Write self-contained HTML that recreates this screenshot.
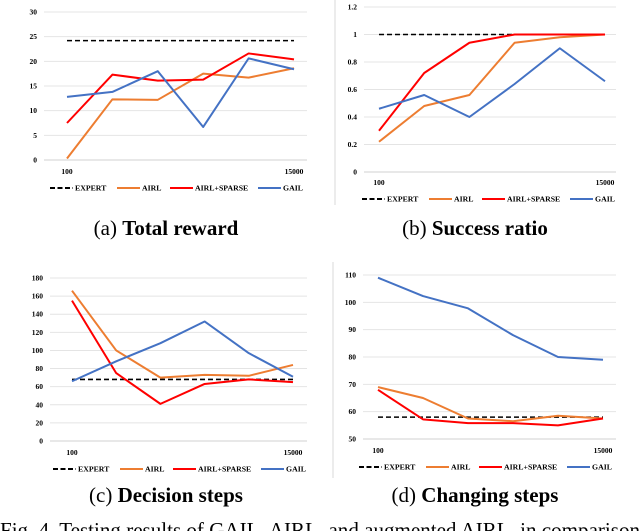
<!DOCTYPE html>
<html><head><meta charset="utf-8">
<style>
html,body{margin:0;padding:0;background:#fff;}
svg{display:block;font-family:"Liberation Serif",serif;}
</style></head>
<body>
<svg id="fig" width="640" height="531" viewBox="0 0 640 531">
  <line x1="335" y1="0" x2="335" y2="205" stroke="#d8d8d8" stroke-width="1"/>
  <line x1="333" y1="262" x2="333" y2="478" stroke="#d8d8d8" stroke-width="1"/>
  <text x="166" y="235" text-anchor="middle" font-size="21">(a) <tspan font-weight="bold">Total reward</tspan></text>
  <text x="475" y="235" text-anchor="middle" font-size="21">(b) <tspan font-weight="bold">Success ratio</tspan></text>
  <text x="166" y="502" text-anchor="middle" font-size="21">(c) <tspan font-weight="bold">Decision steps</tspan></text>
  <text x="475" y="502" text-anchor="middle" font-size="21">(d) <tspan font-weight="bold">Changing steps</tspan></text>
  <text x="0" y="537" font-size="21" textLength="640" lengthAdjust="spacingAndGlyphs">Fig. 4.   Testing results of GAIL, AIRL, and augmented AIRL, in comparison</text>
</svg>
<script>
// Data
const xLabels = ["100", "", "", "", "", "15000"];
const seriesNames = ["EXPERT", "AIRL", "AIRL+SPARSE", "GAIL"];
const aExpert = [24.2, 24.2, 24.2, 24.2, 24.2, 24.2];
const aAirl = [0.3, 12.3, 12.2, 17.5, 16.7, 18.6];
const aSparse = [7.5, 17.3, 16.1, 16.3, 21.6, 20.4];
const aGail = [12.8, 13.8, 18.0, 6.7, 20.6, 18.4];
const aTicks = [0, 5, 10, 15, 20, 25, 30];
const bExpert = [1, 1, 1, 1, 1, 1];
const bAirl = [0.22, 0.48, 0.56, 0.94, 0.98, 1];
const bSparse = [0.3, 0.72, 0.94, 1, 1, 1];
const bGail = [0.46, 0.56, 0.40, 0.64, 0.90, 0.66];
const bTicks = [0, 0.2, 0.4, 0.6, 0.8, 1, 1.2];
const cExpert = [68, 68, 68, 68, 68, 68];
const cAirl = [166, 100, 70, 73, 72, 84];
const cSparse = [155, 75, 41, 63, 68, 65];
const cGail = [66, 88, 108, 132, 97, 71];
const cTicks = [0, 20, 40, 60, 80, 100, 120, 140, 160, 180];
const dExpert = [58, 58, 58, 58, 58, 58];
const dAirl = [69, 65, 57.5, 56.5, 58.5, 57.5];
const dSparse = [68, 57.2, 55.8, 55.8, 55, 57.5];
const dGail = [109, 102.3, 97.8, 88, 80, 79];
const dTicks = [50, 60, 70, 80, 90, 100, 110];

const colors = ["#000000", "#ed7d31", "#ff0000", "#4472c4"];
const NS = "http://www.w3.org/2000/svg";
const svg = document.getElementById("fig");

function mk(tag, attrs, parent) {
  const e = document.createElementNS(NS, tag);
  for (const k in attrs) e.setAttribute(k, attrs[k]);
  parent.appendChild(e);
  return e;
}

function chart(id, cfg, ticks, series) {
  const g = mk("g", {}, svg);
  
  
  const yMin = ticks[0], yMax = ticks[ticks.length - 1];
  const ys = v => cfg.yb - (v - yMin) / (yMax - yMin) * (cfg.yb - cfg.yt);
  const xs = i => cfg.px0 + i * (cfg.px1 - cfg.px0) / (xLabels.length - 1);
  ticks.forEach(t => {
    const l = mk("line", {x1: cfg.gx0, x2: cfg.gx1, y1: ys(t), y2: ys(t), stroke: t === yMin ? "#d0d0d0" : "#e4e4e4", "stroke-width": 1}, g);
    
    
    const tx = mk("text", {x: cfg.gx0 - 7, y: ys(t) + 2.5, "text-anchor": "end", "font-size": 7.5, "font-weight": "bold"}, g);
    tx.textContent = String(t);
    
    
  });
  xLabels.forEach((lab, i) => {
    if (!lab) return;
    const tx = mk("text", {x: xs(i), y: cfg.ly, "text-anchor": "middle", "font-size": 7.5, "font-weight": "bold"}, g);
    tx.textContent = lab;
    
    
  });
  series.forEach((vals, s) => {
    const pts = vals.map((v, i) => xs(i) + "," + ys(v)).join(" ");
    const p = mk("polyline", {points: pts, fill: "none", stroke: colors[s], "stroke-width": s === 0 ? 1.6 : 2, "stroke-dasharray": s === 0 ? "5,3" : "none", "stroke-linejoin": "round"}, g);
    
    
  });
  const lx = cfg.legX;
  seriesNames.forEach((n, s) => {
    const x0 = cfg.ox + lx[s];
    const l = mk("line", {x1: x0, x2: x0 + 23, y1: cfg.legY, y2: cfg.legY, stroke: colors[s], "stroke-width": 2, "stroke-dasharray": s === 0 ? "5,2.5" : "none"}, g);
    
    
    const t = mk("text", {x: x0 + 25, y: cfg.legY + 2.5, "font-size": 7.8, "font-weight": "bold"}, g);
    t.textContent = n;
    
    
  });
}

const legA = [50, 117, 170, 258];
chart("a", {ox: 0, yt: 12, yb: 160, gx0: 44, gx1: 307, px0: 67, px1: 294, ly: 174, legY: 188, legX: legA}, aTicks, [aExpert, aAirl, aSparse, aGail]);
chart("b", {ox: 312, yt: 7, yb: 172, gx0: 364, gx1: 616, px0: 379, px1: 605, ly: 185, legY: 199, legX: legA}, bTicks, [bExpert, bAirl, bSparse, bGail]);
chart("c", {ox: 3, yt: 278, yb: 441, gx0: 50, gx1: 307, px0: 72, px1: 293, ly: 455, legY: 469, legX: legA}, cTicks, [cExpert, cAirl, cSparse, cGail]);
chart("d", {ox: 309, yt: 275, yb: 439, gx0: 363, gx1: 616, px0: 378, px1: 603, ly: 453, legY: 467, legX: legA}, dTicks, [dExpert, dAirl, dSparse, dGail]);
</script>
</body></html>
